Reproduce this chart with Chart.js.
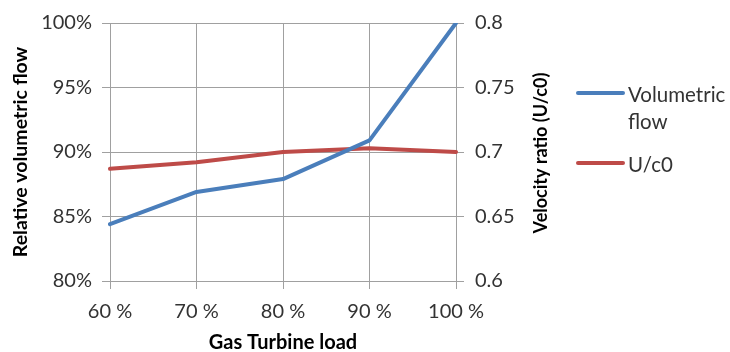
<!DOCTYPE html>
<html>
<head>
<meta charset="utf-8">
<script src="https://cdn.jsdelivr.net/npm/chart.js@4/dist/chart.umd.min.js"></script>
<style>
  html, body { margin: 0; padding: 0; background: #ffffff; }
  #wrap { position: relative; width: 730px; height: 352px; }
</style>
</head>
<body>
<div id="wrap"><canvas id="chart" width="730" height="352"></canvas></div>
<script>
// Gas turbine load steps (x axis)
const loadLabels = ['60 %', '70 %', '80 %', '90 %', '100 %'];
// Relative volumetric flow, percent (left axis)
const volumetricFlow = [84.4, 86.9, 87.9, 90.9, 100.0];
// Velocity ratio U/c0 (right axis)
const velocityRatio = [0.687, 0.692, 0.700, 0.703, 0.700];

const seriesNames = ['Volumetric flow', 'U/c0'];
const leftTitle = 'Relative volumetric flow';
const rightTitle = 'Velocity ratio (U/c0)';
const bottomTitle = 'Gas Turbine load';

const FONT = 'Lato, "Open Sans", sans-serif';
const GRID = '#a0a0a0';
const TICK_COLOR = '#333333';

// Right-hand axis title, read bottom to top
const rightTitlePlugin = {
  id: 'rightTitle',
  afterDraw(chart) {
    const { ctx, chartArea } = chart;
    ctx.save();
    ctx.font = 'bold 18px ' + FONT;
    ctx.fillStyle = '#000000';
    ctx.textAlign = 'center';
    ctx.textBaseline = 'middle';
    ctx.translate(541, (chartArea.top + chartArea.bottom) / 2 + 1);
    ctx.rotate(-Math.PI / 2);
    ctx.fillText(rightTitle, 0, 0);
    ctx.restore();
  }
};

// Legend on the right, labels wrapped to the space left of the canvas edge
const sideLegendPlugin = {
  id: 'sideLegend',
  afterDraw(chart) {
    const { ctx } = chart;
    const x0 = 578, lineLen = 45, textX = 628, maxW = 730 - textX;
    const lineGap = 27, itemGap = 16;
    let y = 93;
    ctx.save();
    ctx.font = '20.5px ' + FONT;
    ctx.textBaseline = 'middle';
    ctx.textAlign = 'left';
    chart.data.datasets.forEach(ds => {
      // wrap words
      const words = ds.label.split(' ');
      const lines = [];
      let cur = '';
      words.forEach(w => {
        const t = cur ? cur + ' ' + w : w;
        if (ctx.measureText(t).width > maxW && cur) { lines.push(cur); cur = w; }
        else cur = t;
      });
      if (cur) lines.push(cur);
      ctx.strokeStyle = ds.borderColor;
      ctx.lineWidth = 4;
      ctx.lineCap = 'round';
      ctx.beginPath();
      ctx.moveTo(x0, y);
      ctx.lineTo(x0 + lineLen, y);
      ctx.stroke();
      ctx.fillStyle = TICK_COLOR;
      lines.forEach((ln, i) => ctx.fillText(ln, textX, y + 2 + i * lineGap));
      y += (lines.length - 1) * lineGap + lineGap + itemGap;
    });
    ctx.restore();
  }
};

new Chart(document.getElementById('chart'), {
  type: 'line',
  data: {
    labels: loadLabels,
    datasets: [
      {
        label: seriesNames[0],
        data: volumetricFlow,
        yAxisID: 'y',
        borderColor: '#4a7ebb',
        borderWidth: 4,
        borderCapStyle: 'round',
        borderJoinStyle: 'round',
        pointRadius: 0,
        tension: 0,
        fill: false
      },
      {
        label: seriesNames[1],
        data: velocityRatio,
        yAxisID: 'y1',
        borderColor: '#be4b48',
        borderWidth: 4,
        borderCapStyle: 'round',
        borderJoinStyle: 'round',
        pointRadius: 0,
        tension: 0,
        fill: false
      }
    ]
  },
  options: {
    responsive: false,
    animation: false,
    layout: { padding: { top: 20, right: 174, bottom: 0, left: 0 } },
    plugins: {
      legend: { display: false },
      tooltip: { enabled: false }
    },
    scales: {
      x: {
        type: 'category',
        offset: false,
        grid: { color: GRID, lineWidth: 1, tickLength: 8, drawTicks: true },
        border: { color: GRID },
        ticks: { color: TICK_COLOR, font: { family: FONT, size: 20 }, padding: 11, maxRotation: 0 },
        title: { display: true, text: bottomTitle, color: '#000000', font: { family: FONT, size: 20, weight: 'bold' }, padding: { top: 0, bottom: -3 } },
        afterFit(s) { s.height = 71; }
      },
      y: {
        position: 'left',
        min: 80, max: 100,
        grid: { color: GRID, lineWidth: 1, tickLength: 8 },
        border: { color: GRID },
        ticks: { stepSize: 5, color: TICK_COLOR, font: { family: FONT, size: 20 }, padding: 10, callback: v => v + '%' },
        title: { display: true, text: leftTitle, color: '#000000', font: { family: FONT, size: 19.5, weight: 'bold' }, padding: { top: 9, bottom: 0 } },
        afterFit(s) { s.width = 110; }
      },
      y1: {
        position: 'right',
        min: 0.6, max: 0.8,
        grid: { drawOnChartArea: false, color: GRID, lineWidth: 1, tickLength: 8 },
        border: { color: GRID },
        ticks: { stepSize: 0.05, color: TICK_COLOR, font: { family: FONT, size: 20 }, padding: 11, callback: v => String(parseFloat(Number(v).toFixed(2))) },
        afterFit(s) { s.width = 100; }
      }
    }
  },
  plugins: [rightTitlePlugin, sideLegendPlugin]
});
</script>
</body>
</html>
